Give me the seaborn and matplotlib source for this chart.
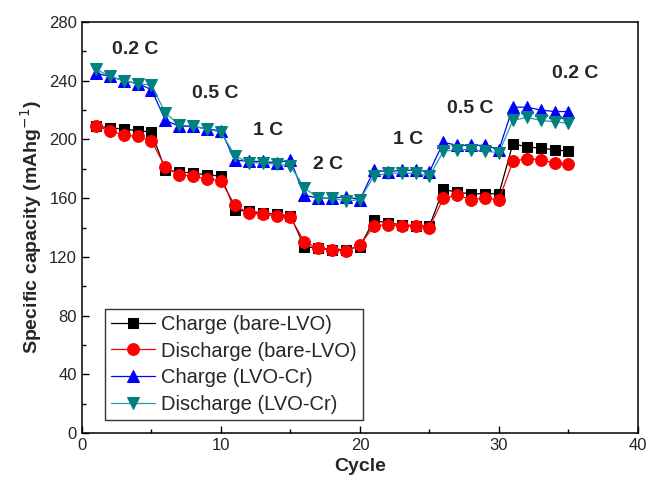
import numpy as np
import pandas as pd
import seaborn as sns
import matplotlib.pyplot as plt
from matplotlib.ticker import MultipleLocator

# capacity data
cycles = list(range(1, 36))
charge_bare = [209, 208, 207, 206, 205,
               179, 178, 177, 176, 175,
               152, 151, 150, 149, 148,
               127, 126, 125, 125, 127,
               145, 143, 142, 141, 141,
               166, 164, 163, 163, 163,
               197, 195, 194, 193, 192]
discharge_bare = [209, 206, 203, 202, 199,
                  181, 176, 175, 173, 172,
                  155, 150, 149, 148, 147,
                  130, 126, 125, 124, 128,
                  141, 142, 141, 141, 140,
                  160, 162, 159, 160, 159,
                  185, 187, 186, 184, 183]
charge_cr = [245, 243, 240, 238, 234,
             213, 209, 209, 207, 206,
             186, 185, 185, 184, 186,
             162, 160, 160, 161, 159,
             179, 178, 179, 179, 178,
             198, 196, 196, 196, 193,
             222, 222, 220, 219, 219]
discharge_cr = [248, 243, 240, 238, 237,
                218, 210, 209, 207, 205,
                189, 184, 184, 183, 182,
                167, 160, 160, 158, 159,
                175, 177, 177, 177, 175,
                192, 193, 193, 192, 191,
                213, 215, 213, 212, 211]

series_names = ["Charge (bare-LVO)", "Discharge (bare-LVO)",
                "Charge (LVO-Cr)", "Discharge (LVO-Cr)"]
rate_labels = ["0.2 C", "0.5 C", "1 C", "2 C", "1 C", "0.5 C", "0.2 C"]
rate_pos = [(3.8, 261), (9.6, 231), (13.4, 206), (17.7, 183),
            (23.5, 200), (27.9, 221), (35.5, 245)]

sns.set_style("ticks")
plt.rcParams['font.family'] = ['Liberation Sans', 'DejaVu Sans']
plt.rcParams['xtick.direction'] = 'in'
plt.rcParams['ytick.direction'] = 'in'

fig = plt.figure(figsize=(6.49, 4.90), dpi=100)
ax = fig.add_axes([0.1263, 0.1163, 0.8567, 0.8388])

styles = [
    (charge_bare, 's', 'black', 'black', 7.5),
    (discharge_bare, 'o', 'red', 'red', 8.5),
    (charge_cr, '^', 'blue', 'blue', 8.5),
    (discharge_cr, 'v', '#008080', '#20a0a0', 8.5),
]
for name, (vals, mk, mcol, lcol, ms) in zip(series_names, styles):
    sns.lineplot(x=cycles, y=vals, ax=ax, marker=mk, markersize=ms,
                 color=lcol, markerfacecolor=mcol, markeredgecolor=mcol,
                 linewidth=0.9, label=name)

for txt, (x, y) in zip(rate_labels, rate_pos):
    ax.text(x, y, txt, fontsize=14, fontweight='bold', ha='center', va='center')

ax.set_xlim(0, 40)
ax.set_ylim(0, 280)
ax.xaxis.set_major_locator(MultipleLocator(10))
ax.xaxis.set_minor_locator(MultipleLocator(5))
ax.yaxis.set_major_locator(MultipleLocator(40))
ax.yaxis.set_minor_locator(MultipleLocator(20))
ax.tick_params(which='major', length=5, width=1, labelsize=12, color='black')
ax.tick_params(which='minor', length=3, width=1, color='black')
for s in ax.spines.values():
    s.set_visible(True)
    s.set_color('black')
    s.set_linewidth(1.1)

ax.set_xlabel("Cycle", fontsize=14, fontweight='bold')
ax.set_ylabel("Specific capacity (mAhg$^{-1}$)", fontsize=14, fontweight='bold')

leg = ax.legend(loc='lower left', bbox_to_anchor=(0.041, 0.032), borderaxespad=0,
                fontsize=14.5, handlelength=2.2, handletextpad=0.3,
                labelspacing=0.38, borderpad=0.3, fancybox=False, framealpha=1)
leg.get_frame().set_edgecolor('#333333')
leg.get_frame().set_linewidth(1)

fig.savefig("out.png", dpi=100)
